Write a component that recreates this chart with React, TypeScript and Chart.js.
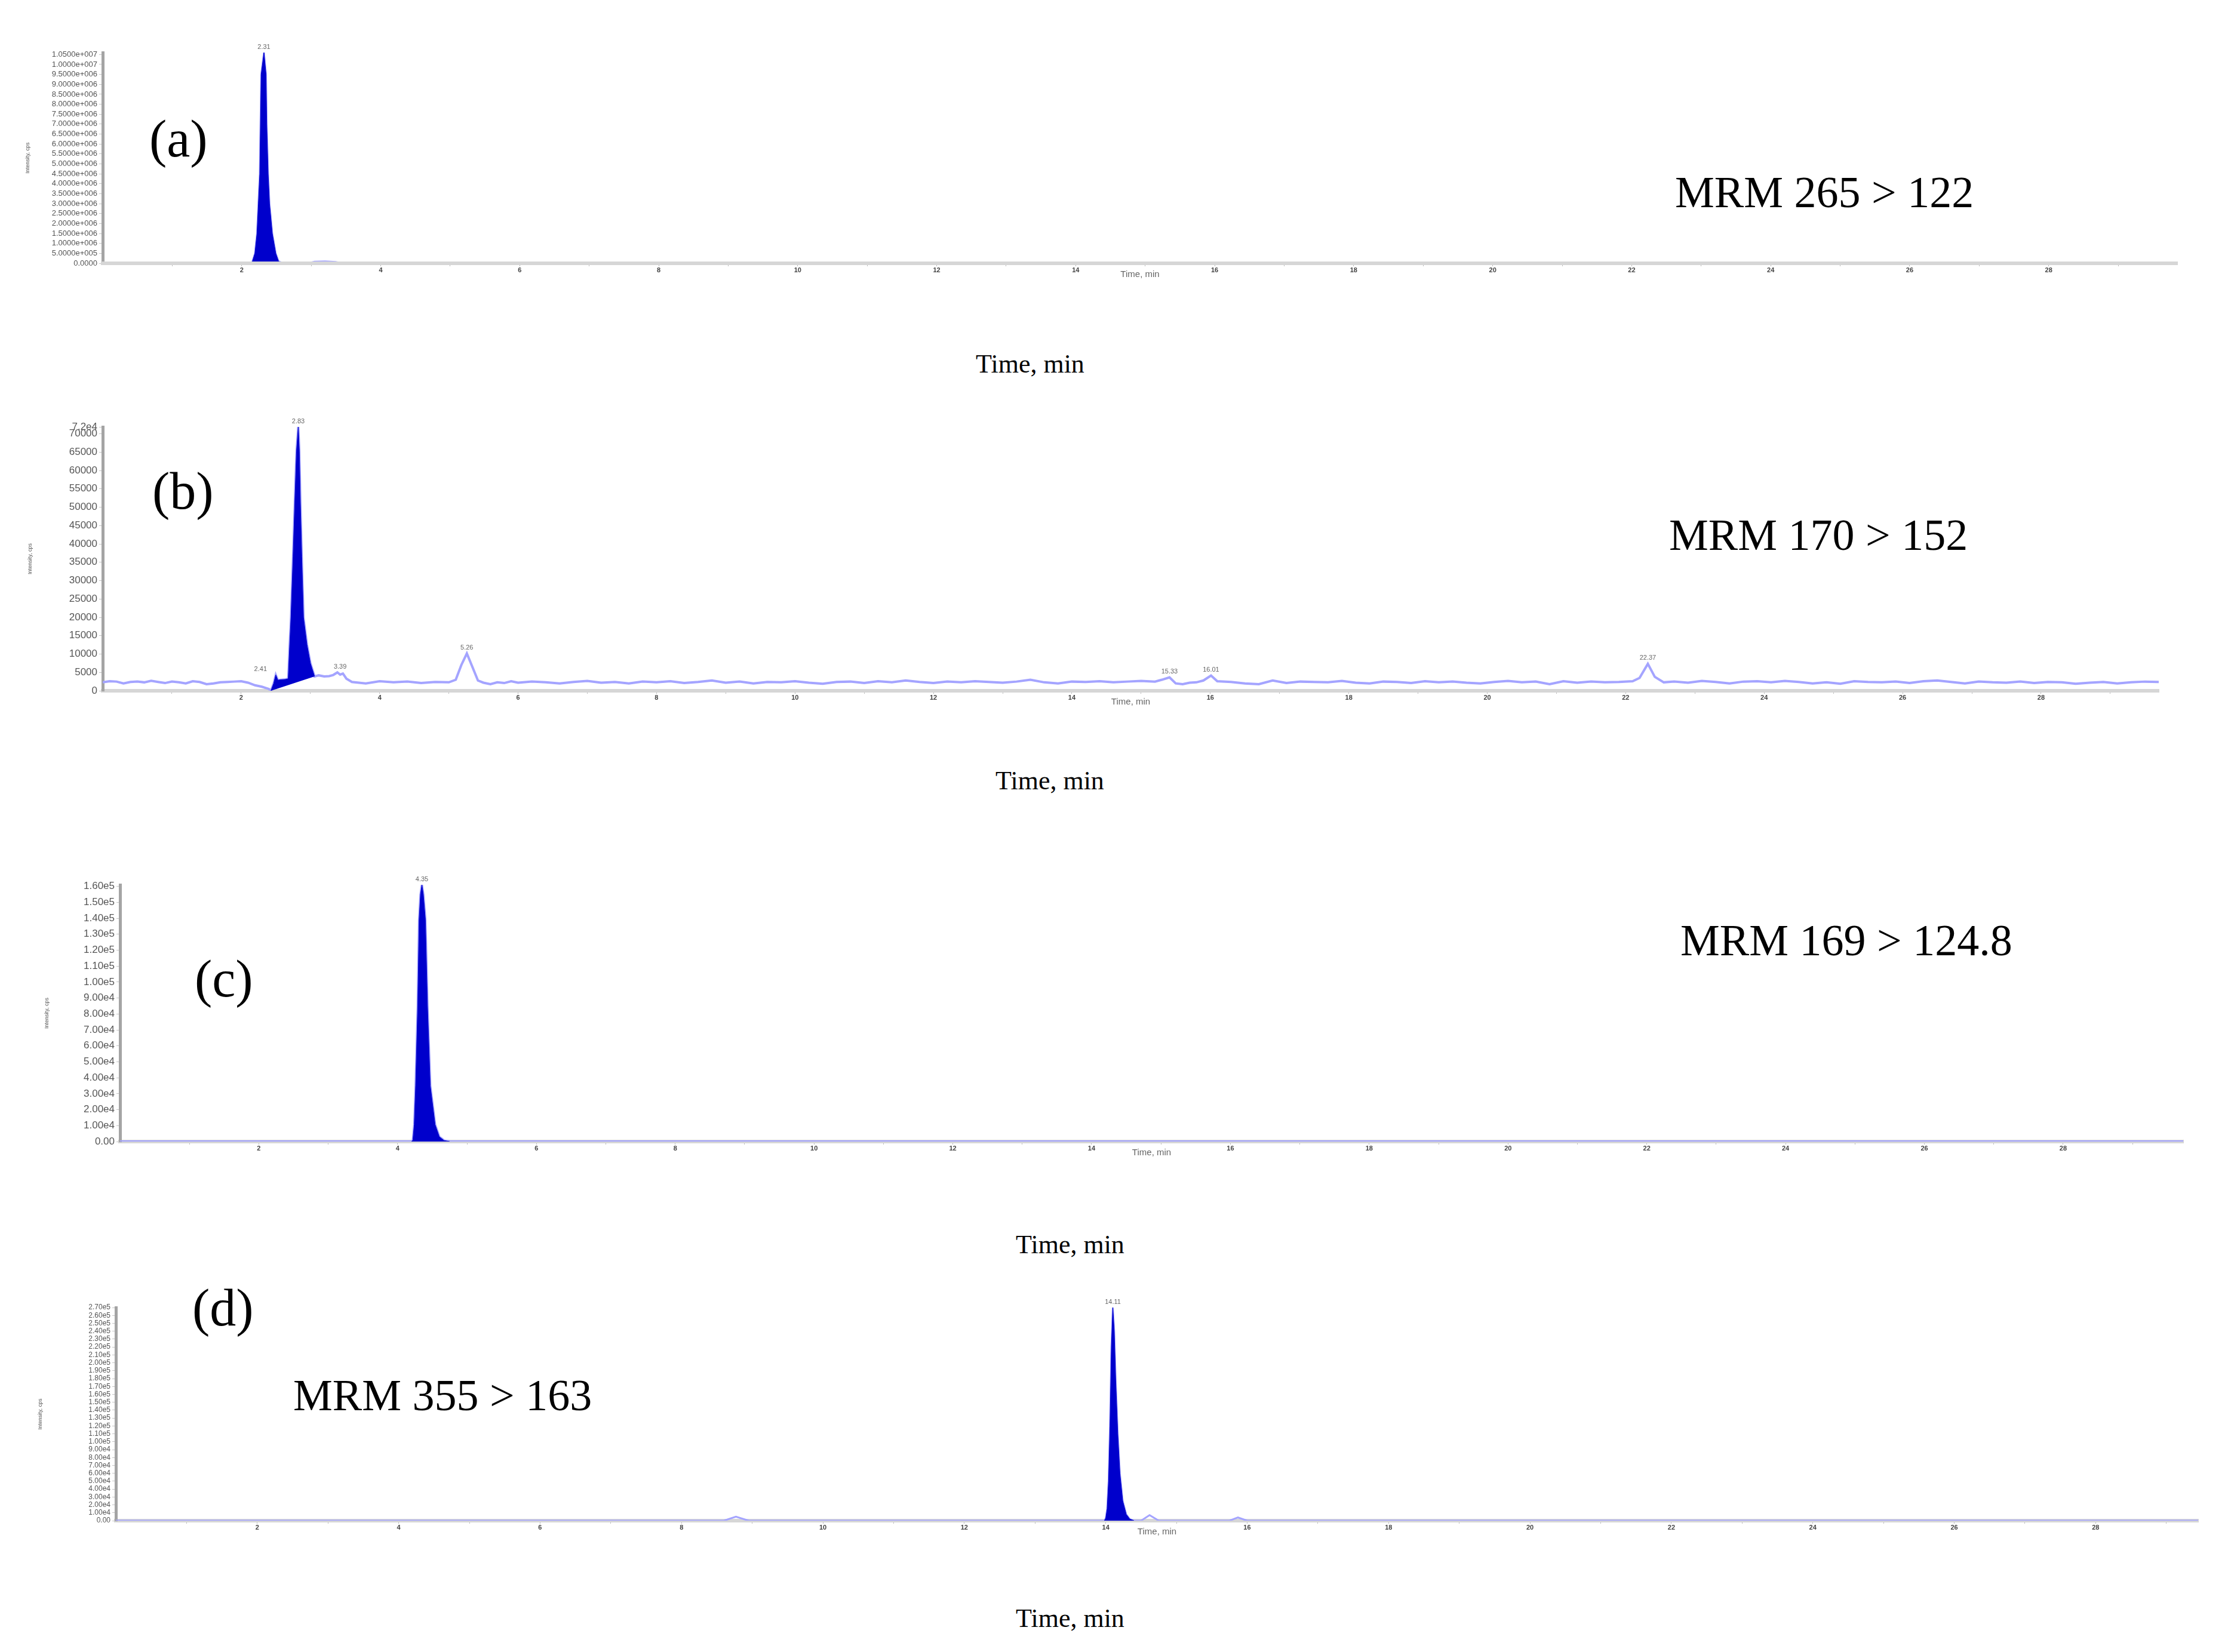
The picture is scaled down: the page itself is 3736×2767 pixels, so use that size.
import React, { useEffect, useRef } from "react";
import { Chart, registerables } from "chart.js";

Chart.register(...registerables);

type Pt = [number, number];

// ---------------- Panel (a): MRM 265 > 122 ----------------
const aTrace: Pt[] = [
  [0, 0], [2.12, 0], [2.15, 50000], [2.19, 500000], [2.22, 1500000], [2.24, 3000000],
  [2.26, 4500000], [2.27, 7000000], [2.28, 9500000], [2.32, 10600000], [2.35, 9500000],
  [2.36, 7000000], [2.38, 4500000], [2.4, 3000000], [2.44, 1500000], [2.49, 500000],
  [2.53, 100000], [2.6, 0], [2.95, 0], [3.05, 80000], [3.2, 100000], [3.35, 70000],
  [3.45, 0], [29.85, 0],
];
const aIntegration: number[] = [2.12, 2.6];
const aYTicks: number[] = [
  0, 500000, 1000000, 1500000, 2000000, 2500000, 3000000, 3500000, 4000000, 4500000,
  5000000, 5500000, 6000000, 6500000, 7000000, 7500000, 8000000, 8500000, 9000000,
  9500000, 10000000, 10500000,
];
const aYMax = 10600000;
const aXMax = 29.85;
const aPeakT: number[] = [2.32];
const aPeakV: number[] = [10600000];
const aPeakText: string[] = ["2.31"];

// ---------------- Panel (b): MRM 170 > 152 ----------------
const bTrace: Pt[] = [
  [0, 2300], [0.1, 2600], [0.2, 2500], [0.3, 2000], [0.4, 2400], [0.5, 2500], [0.6, 2300],
  [0.7, 2700], [0.8, 2400], [0.9, 2100], [1.0, 2500], [1.1, 2300], [1.2, 2000], [1.3, 2600],
  [1.4, 2400], [1.5, 1800], [1.6, 2000], [1.7, 2300], [1.8, 2400], [1.9, 2500], [2.0, 2600],
  [2.1, 2200], [2.2, 1500], [2.3, 1100], [2.35, 800], [2.4, 500], [2.43, 0],
  [2.47, 2000], [2.5, 4300], [2.53, 2900], [2.58, 3000], [2.64, 3100], [2.68, 3300],
  [2.7, 12000], [2.72, 20000], [2.75, 36500], [2.775, 51200], [2.8, 65300], [2.825, 71880],
  [2.84, 65300], [2.855, 51200], [2.875, 36500], [2.9, 20000], [2.95, 12600], [3.0, 7500],
  [3.06, 3900], [3.12, 4200], [3.2, 3900], [3.27, 4000], [3.33, 4300], [3.39, 5000],
  [3.43, 4400], [3.47, 4700], [3.52, 3300], [3.6, 2400], [3.8, 2000], [4.0, 2600],
  [4.2, 2300], [4.4, 2500], [4.6, 2100], [4.8, 2400], [5.0, 2300], [5.1, 3000],
  [5.18, 7000], [5.26, 10160], [5.34, 6500], [5.42, 2800], [5.5, 2200], [5.6, 1800],
  [5.7, 2300], [5.8, 2100], [5.9, 2600], [6.0, 2200], [6.2, 2500], [6.4, 2300], [6.6, 2000],
  [6.8, 2400], [7.0, 2700], [7.2, 2200], [7.4, 2400], [7.6, 2000], [7.8, 2500], [8.0, 2300],
  [8.2, 2600], [8.4, 2100], [8.6, 2400], [8.8, 2800], [9.0, 2200], [9.2, 2500], [9.4, 2000],
  [9.6, 2400], [9.8, 2300], [10.0, 2600], [10.2, 2200], [10.4, 1900], [10.6, 2400],
  [10.8, 2500], [11.0, 2100], [11.2, 2600], [11.4, 2300], [11.6, 2800], [11.8, 2400],
  [12.0, 2100], [12.2, 2500], [12.4, 2300], [12.6, 2600], [12.8, 2400], [13.0, 2200],
  [13.2, 2500], [13.4, 3000], [13.6, 2300], [13.8, 2000], [14.0, 2500], [14.2, 2400],
  [14.4, 2600], [14.6, 2300], [14.8, 2500], [15.0, 2700], [15.2, 2500], [15.3, 3000],
  [15.41, 3660], [15.5, 2000], [15.6, 1800], [15.7, 2200], [15.8, 2300], [15.9, 2800],
  [16.01, 4140], [16.1, 2600], [16.3, 2400], [16.5, 2000], [16.7, 1800], [16.9, 2800],
  [17.1, 2100], [17.3, 2500], [17.5, 2400], [17.7, 2300], [17.9, 2700], [18.1, 2200],
  [18.3, 2000], [18.5, 2500], [18.7, 2400], [18.9, 2100], [19.1, 2600], [19.3, 2300],
  [19.5, 2500], [19.7, 2200], [19.9, 2000], [20.1, 2400], [20.3, 2700], [20.5, 2300],
  [20.7, 2500], [20.9, 1800], [21.1, 2600], [21.3, 2200], [21.5, 2500], [21.7, 2300],
  [21.9, 2400], [22.1, 2600], [22.2, 3500], [22.32, 7330], [22.42, 3800], [22.55, 2300],
  [22.7, 2500], [22.9, 2200], [23.1, 2700], [23.3, 2400], [23.5, 2000], [23.7, 2500],
  [23.9, 2600], [24.1, 2300], [24.3, 2700], [24.5, 2400], [24.7, 2000], [24.9, 2300],
  [25.1, 1900], [25.3, 2600], [25.5, 2400], [25.7, 2300], [25.9, 2500], [26.1, 2100],
  [26.3, 2600], [26.5, 2800], [26.7, 2400], [26.9, 2000], [27.1, 2500], [27.3, 2300],
  [27.5, 2200], [27.7, 2500], [27.9, 2100], [28.1, 2400], [28.3, 2300], [28.5, 1900],
  [28.7, 2200], [28.9, 2400], [29.1, 2000], [29.3, 2300], [29.5, 2500], [29.7, 2400],
];
const bIntegration: number[] = [2.43, 3.06];
const bIntegrationBase: Pt[] = [[2.43, 0], [3.06, 3900]];
const bYTicks: number[] = [
  0, 5000, 10000, 15000, 20000, 25000, 30000, 35000, 40000, 45000, 50000, 55000, 60000,
  65000, 70000, 71880,
];
const bYMax = 71880;
const bXMax = 29.7;
const bPeakT: number[] = [2.28, 2.825, 3.43, 5.26, 15.41, 16.01, 22.32];
const bPeakV: number[] = [4300, 71880, 5000, 10160, 3660, 4140, 7330];
const bPeakText: string[] = ["2.41", "2.83", "3.39", "5.26", "15.33", "16.01", "22.37"];

// ---------------- Panel (c): MRM 169 > 124.8 ----------------
const cTrace: Pt[] = [
  [0, 0], [4.2, 0], [4.22, 800], [4.24, 10600], [4.26, 35000], [4.29, 85000], [4.31, 139000],
  [4.33, 155000], [4.35, 161000], [4.37, 155000], [4.4, 139000], [4.43, 85000], [4.47, 35000],
  [4.54, 10600], [4.6, 3000], [4.67, 600], [4.75, 0], [29.73, 0],
];
const cIntegration: number[] = [4.2, 4.75];
const cYTicks: number[] = [
  0, 10000, 20000, 30000, 40000, 50000, 60000, 70000, 80000, 90000, 100000, 110000, 120000,
  130000, 140000, 150000, 160000,
];
const cYMax = 161000;
const cXMax = 29.73;
const cPeakT: number[] = [4.35];
const cPeakV: number[] = [161000];
const cPeakText: string[] = ["4.35"];

// ---------------- Panel (d): MRM 355 > 163 ----------------
const dTrace: Pt[] = [
  [0, 0], [8.6, 0], [8.77, 5000], [8.95, 0], [13.98, 0], [14.0, 3000], [14.02, 15000],
  [14.04, 50000], [14.06, 120000], [14.08, 220000], [14.1, 270000], [14.12, 240000],
  [14.14, 180000], [14.17, 110000], [14.2, 60000], [14.24, 25000], [14.29, 8000],
  [14.34, 2000], [14.4, 0], [14.5, 0], [14.62, 7000], [14.75, 0], [15.75, 0], [15.87, 4000],
  [16.0, 0], [29.45, 0],
];
const dIntegration: number[] = [13.98, 14.4];
const dYTicks: number[] = [
  0, 10000, 20000, 30000, 40000, 50000, 60000, 70000, 80000, 90000, 100000, 110000, 120000,
  130000, 140000, 150000, 160000, 170000, 180000, 190000, 200000, 210000, 220000, 230000,
  240000, 250000, 260000, 270000,
];
const dYMax = 270000;
const dXMax = 29.45;
const dPeakT: number[] = [14.1];
const dPeakV: number[] = [270000];
const dPeakText: string[] = ["14.11"];

// shared x ticks (minutes)
const xTickValues: number[] = [
  1, 2, 3, 4, 5, 6, 7, 8, 9, 10, 11, 12, 13, 14, 15, 16, 17, 18, 19, 20, 21, 22, 23, 24, 25,
  26, 27, 28, 29,
];

// ---------------- formatting ----------------
const fmtA = (v: number) => {
  if (v === 0) return "0.0000";
  const [m, e] = v.toExponential(4).split("e");
  return `${m}e+${String(Math.abs(Number(e))).padStart(3, "0")}`;
};
const fmtB = (v: number) => (v % 500 === 0 ? String(v) : v.toExponential(1).replace("+", ""));
const fmtC = (v: number) => (v === 0 ? "0.00" : v.toExponential(2).replace("+", ""));
const fmtD = (v: number) => (v === 0 ? "0.00" : v.toExponential(2).replace("+", ""));

// ---------------- styles / layout ----------------
const W = 3736;
const FILL_COLOR = "#0000cc";
const SANS = '"Liberation Sans", Arial, sans-serif';
const SERIF = '"Liberation Serif", "Times New Roman", serif';

interface Spec {
  trace: Pt[];
  integration: number[];
  intBase?: Pt[];
  yTicks: number[];
  yMax: number;
  xMax: number;
  fmt: (v: number) => string;
  peakT: number[];
  peakV: number[];
  peakText: string[];
}
interface Layout {
  L: number; T: number; R: number; B: number; yW: number; yFont: number;
  axisOnTop: boolean; traceColor: string; traceWidth: number;
}

const PAD_TOP = 60;
const X_AXIS_H = 28;
const EXTRA = 110;

function buildConfig(spec: Spec, lay: Layout): any {
  const toXY = (arr: Pt[]) => arr.map(([x, y]) => ({ x, y }));
  const fillPts = spec.trace.filter(([t]) => t >= spec.integration[0] && t <= spec.integration[1]);
  const h = lay.B - lay.T + EXTRA;
  const datasets: any[] = [
    {
      data: toXY(spec.trace), borderColor: lay.traceColor, borderWidth: lay.traceWidth, pointRadius: 0,
      fill: false, order: 2, tension: 0,
    },
    {
      data: toXY(fillPts), borderColor: FILL_COLOR, borderWidth: 1, pointRadius: 0,
      backgroundColor: FILL_COLOR, fill: spec.intBase ? 2 : "origin", order: 1, tension: 0,
    },
  ];
  if (spec.intBase) {
    datasets.push({
      data: toXY(spec.intBase), borderColor: "rgba(0,0,0,0)", borderWidth: 0, pointRadius: 0,
      fill: false, order: 3,
    });
  }
  const peakPlugin = {
    id: "peakLabels",
    afterDatasetsDraw(chart: any) {
      const { ctx, scales } = chart;
      ctx.save();
      ctx.font = `11px ${SANS}`;
      ctx.fillStyle = "#666";
      ctx.textAlign = "center";
      ctx.textBaseline = "bottom";
      spec.peakT.forEach((t, i) => {
        ctx.fillText(spec.peakText[i], scales.x.getPixelForValue(t), scales.y.getPixelForValue(spec.peakV[i]) - 4);
      });
      ctx.restore();
    },
  };
  return {
    type: "line",
    data: { datasets },
    plugins: [peakPlugin],
    options: {
      animation: false,
      responsive: false,
      devicePixelRatio: 1,
      events: [],
      layout: {
        padding: {
          top: PAD_TOP,
          bottom: h - PAD_TOP - (lay.B - lay.T) - X_AXIS_H,
          left: lay.L - lay.yW,
          right: W - lay.R,
        },
      },
      plugins: { legend: { display: false }, tooltip: { enabled: false } },
      scales: {
        x: {
          type: "linear",
          min: 0,
          max: spec.xMax,
          afterBuildTicks: (s: any) => { s.ticks = xTickValues.map((v) => ({ value: v })); },
          afterFit: (s: any) => { s.height = X_AXIS_H; },
          ticks: {
            autoSkip: false, maxRotation: 0, padding: 0, color: "#444",
            font: { family: SANS, size: 11, weight: "bold" },
            callback: (v: any) => (Number(v) % 2 === 0 ? String(v) : ""),
          },
          grid: { drawOnChartArea: false, drawTicks: true, tickLength: 5, color: "#b8b8b8" },
          border: { color: "#d6d6d6", width: 6, z: lay.axisOnTop ? 1 : 0 },
          title: { display: true, text: "Time, min", color: "#666", padding: 0, font: { family: SANS, size: 15 } },
        },
        y: {
          type: "linear",
          min: 0,
          max: spec.yMax,
          afterBuildTicks: (s: any) => { s.ticks = spec.yTicks.map((v) => ({ value: v })); },
          afterFit: (s: any) => { s.width = lay.yW; },
          ticks: {
            autoSkip: false, padding: 3, color: "#555",
            font: { family: SANS, size: lay.yFont },
            callback: (v: any) => spec.fmt(Number(v)),
          },
          grid: { drawOnChartArea: false, drawTicks: true, tickLength: 6, color: "#c4c4c4" },
          border: { color: "#a4a4a4", width: 5 },
          title: { display: true, text: "Intensity, cps", color: "#555", padding: 0, font: { family: SANS, size: 9 } },
        },
      },
    },
  };
}

function Panel({ spec, lay }: { spec: Spec; lay: Layout }) {
  const ref = useRef<HTMLCanvasElement>(null);
  const h = lay.B - lay.T + EXTRA;
  useEffect(() => {
    const chart = new Chart(ref.current as HTMLCanvasElement, buildConfig(spec, lay));
    return () => chart.destroy();
  }, []);
  return (
    <canvas
      ref={ref}
      width={W}
      height={h}
      style={{ position: "absolute", left: 0, top: lay.T - PAD_TOP, width: W, height: h, display: "block" }}
    />
  );
}

const specs: Spec[] = [
  { trace: aTrace, integration: aIntegration, yTicks: aYTicks, yMax: aYMax, xMax: aXMax, fmt: fmtA, peakT: aPeakT, peakV: aPeakV, peakText: aPeakText },
  { trace: bTrace, integration: bIntegration, intBase: bIntegrationBase, yTicks: bYTicks, yMax: bYMax, xMax: bXMax, fmt: fmtB, peakT: bPeakT, peakV: bPeakV, peakText: bPeakText },
  { trace: cTrace, integration: cIntegration, yTicks: cYTicks, yMax: cYMax, xMax: cXMax, fmt: fmtC, peakT: cPeakT, peakV: cPeakV, peakText: cPeakText },
  { trace: dTrace, integration: dIntegration, yTicks: dYTicks, yMax: dYMax, xMax: dXMax, fmt: fmtD, peakT: dPeakT, peakV: dPeakV, peakText: dPeakText },
];

const layouts: Layout[] = [
  { L: 172, T: 88, R: 3646, B: 441, yW: 131, yFont: 13, axisOnTop: true, traceColor: "#a8a8ff", traceWidth: 3 },
  { L: 172, T: 715, R: 3615, B: 1157, yW: 127, yFont: 17, axisOnTop: false, traceColor: "#a4a4ff", traceWidth: 4 },
  { L: 201, T: 1482, R: 3656, B: 1912, yW: 128, yFont: 17, axisOnTop: false, traceColor: "#a4a4ff", traceWidth: 4 },
  { L: 194, T: 2190, R: 3681, B: 2547, yW: 132, yFont: 12, axisOnTop: false, traceColor: "#a4a4ff", traceWidth: 3 },
];

const panelLetters = ["(a)", "(b)", "(c)", "(d)"];
const letterPos = [
  { left: 250, cy: 242 }, { left: 255, cy: 832 }, { left: 326, cy: 1649 }, { left: 322, cy: 2200 },
];
const mrmLabels = ["MRM 265 > 122", "MRM 170 > 152", "MRM 169 > 124.8", "MRM 355 > 163"];
const mrmPos = [
  { left: 2805, cy: 322 }, { left: 2795, cy: 896 }, { left: 2814, cy: 1575 }, { left: 491, cy: 2337 },
];
const timePos = [
  { cx: 1725, cy: 610 }, { cx: 1758, cy: 1308 }, { cx: 1792, cy: 2085 }, { cx: 1792, cy: 2711 },
];

export default function App() {
  const LET = 88;
  const MRM = 74;
  const TIME = 44;
  return (
    <div style={{ position: "absolute", left: 0, top: 0, width: W, height: 2767, background: "#fff", overflow: "hidden" }}>
      {specs.map((s, i) => (
        <Panel key={i} spec={s} lay={layouts[i]} />
      ))}
      {panelLetters.map((t, i) => (
        <div key={"l" + i} style={{ position: "absolute", left: letterPos[i].left, top: letterPos[i].cy - 0.6 * LET, fontFamily: SERIF, fontSize: LET, lineHeight: `${LET}px`, color: "#000", whiteSpace: "nowrap" }}>{t}</div>
      ))}
      {mrmLabels.map((t, i) => (
        <div key={"m" + i} style={{ position: "absolute", left: mrmPos[i].left, top: mrmPos[i].cy - 0.5 * MRM, fontFamily: SERIF, fontSize: MRM, lineHeight: `${MRM}px`, color: "#000", whiteSpace: "nowrap" }}>{t}</div>
      ))}
      {timePos.map((p, i) => (
        <div key={"t" + i} style={{ position: "absolute", left: p.cx - 300, width: 600, textAlign: "center", top: p.cy - 0.5 * TIME, fontFamily: SERIF, fontSize: TIME, lineHeight: `${TIME}px`, color: "#000", whiteSpace: "nowrap" }}>Time, min</div>
      ))}
    </div>
  );
}
